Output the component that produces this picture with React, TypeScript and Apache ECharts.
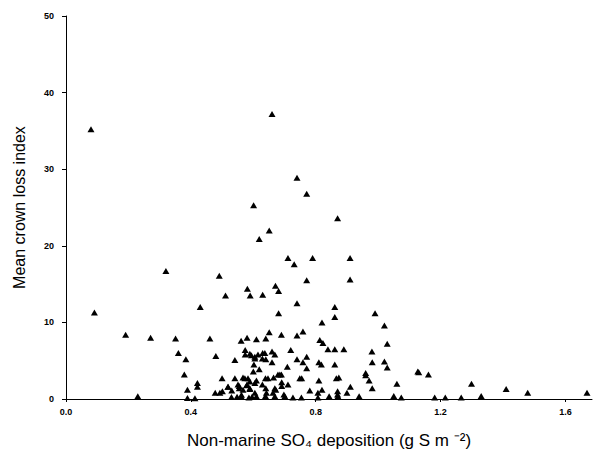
import React, { useEffect, useRef } from "react";
import * as echarts from "echarts";

// Non-marine SO4 deposition (g S m-2)
const depositionX: number[] = [
  0.080, 0.091, 0.191, 0.271, 0.230, 0.320, 0.351, 0.360, 0.384, 0.379,
  0.389, 0.421, 0.421, 0.430, 0.461, 0.480, 0.491, 0.500, 0.511, 0.478,
  0.493, 0.501, 0.519, 0.531, 0.541, 0.555, 0.561, 0.580, 0.581, 0.590,
  0.601, 0.619, 0.610, 0.574, 0.574, 0.589, 0.605, 0.602, 0.600, 0.573,
  0.589, 0.605, 0.579, 0.589, 0.562, 0.605, 0.660, 0.740, 0.771, 0.870,
  0.651, 0.711, 0.731, 0.790, 0.910, 0.771, 0.910, 0.630, 0.671, 0.681,
  0.740, 0.861, 0.861, 0.681, 0.990, 0.820, 1.020, 1.029, 0.759, 0.740,
  0.690, 0.651, 0.640, 0.823, 0.813, 0.839, 0.861, 0.890, 0.980, 0.981,
  1.020, 1.029, 0.960, 0.960, 0.971, 0.981, 1.060, 1.127, 0.720, 0.740,
  0.771, 0.759, 0.771, 0.810, 0.818, 0.861, 0.709, 0.660, 0.660, 0.669,
  0.630, 0.640, 0.619, 0.685, 0.639, 0.647, 0.749, 0.755, 0.866, 0.874,
  0.810, 0.691, 0.691, 0.711, 0.672, 0.629, 0.781, 0.820, 0.870, 0.870,
  0.911, 0.900, 1.130, 1.161, 1.299, 1.410, 1.479, 1.669, 1.330, 1.074,
  1.181, 1.215, 1.266, 0.413, 0.562, 0.610, 0.639, 0.669, 0.701, 0.727,
  0.754, 0.807, 0.843, 0.871, 0.939, 1.050, 0.567, 0.583, 0.610, 0.580,
  0.567, 0.589, 0.541, 0.519, 0.551, 0.555, 0.665, 0.679, 0.690, 0.807,
  0.642, 0.640, 0.669, 0.663, 0.698, 0.594, 0.605, 0.615, 0.637, 0.629,
  0.389, 0.586, 0.596, 0.548, 0.530
];

// Mean crown loss index
const crownLossY: number[] = [
  35.2, 11.3, 8.4, 8.0, 0.35, 16.7, 7.9, 6.0, 5.2, 3.2,
  1.2, 2.1, 1.6, 12.0, 7.9, 5.6, 16.1, 2.7, 13.5, 0.8,
  0.8, 1.0, 1.6, 1.1, 5.1, 1.7, 7.6, 8.0, 14.4, 13.5,
  25.3, 20.9, 7.8, 6.4, 5.8, 5.9, 5.5, 4.5, 3.6, 2.7,
  2.3, 2.1, 1.8, 1.3, 0.56, 0.8, 37.2, 28.9, 26.8, 23.6,
  22.0, 18.4, 17.6, 18.4, 18.4, 15.5, 15.6, 13.6, 14.8, 14.1,
  12.5, 12.0, 10.7, 11.2, 11.2, 10.0, 9.6, 7.2, 8.8, 8.3,
  8.4, 8.7, 7.9, 7.3, 7.7, 6.5, 6.5, 6.5, 6.2, 4.8,
  4.9, 4.1, 3.4, 3.1, 2.4, 1.4, 2.0, 3.6, 6.4, 5.2,
  5.5, 4.8, 4.0, 4.8, 4.5, 4.5, 4.2, 4.8, 6.2, 5.8,
  6.0, 5.2, 3.9, 3.2, 2.7, 2.7, 2.7, 2.7, 2.7, 2.8,
  2.4, 2.2, 1.7, 1.9, 1.2, 1.9, 1.1, 1.2, 1.0, 0.6,
  1.6, 0.8, 3.5, 3.2, 2.0, 1.3, 0.8, 0.8, 0.4, 0.2,
  0.2, 0.2, 0.2, 0.1, 0.3, 0.35, 0.4, 0.35, 0.35, 0.2,
  0.2, 0.2, 0.35, 0.35, 0.35, 0.4, 2.8, 2.7, 2.4, 1.9,
  1.2, 1.4, 2.7, 1.6, 1.9, 1.4, 2.8, 3.2, 3.2, 0.8,
  0.8, 1.4, 1.4, 0.8, 0.6, 5.7, 5.3, 5.8, 6.0, 5.3,
  0.13, 0.2, 0.3, 0.3, 0.25
];

const xTickValues: number[] = [0, 0.4, 0.8, 1.2, 1.6];

const xTitle = "Non-marine SO\u2084 deposition (g S m \u207B\u00B2)";
const yTitle = "Mean crown loss index";

const FONT = "Liberation Sans, Arial, Helvetica, sans-serif";

export default function App() {
  const ref = useRef<HTMLDivElement>(null);

  useEffect(() => {
    document.body.style.margin = "0";
    if (!ref.current) return;
    const chart = echarts.init(ref.current, null, { renderer: "svg" });
    const points = depositionX.map((x, i) => [x, crownLossY[i]]);
    chart.setOption({
      animation: false,
      backgroundColor: "#ffffff",
      grid: { left: 66, right: 14, top: 16, bottom: 53, containLabel: false },
      xAxis: {
        type: "value",
        min: 0,
        max: 1.685,
        name: xTitle,
        nameLocation: "middle",
        nameGap: 33,
        nameTextStyle: { fontFamily: FONT, fontSize: 17, color: "#000" },
        axisLine: { show: true, lineStyle: { color: "#000", width: 1 } },
        axisTick: { show: true, length: 3, customValues: xTickValues, lineStyle: { color: "#000" } },
        axisLabel: {
          customValues: xTickValues,
          formatter: (v: number) => v.toFixed(1),
          fontFamily: FONT,
          fontSize: 9,
          fontWeight: "bold",
          color: "#000",
          margin: 8,
        },
        splitLine: { show: false },
      },
      yAxis: {
        type: "value",
        min: 0,
        max: 50,
        interval: 10,
        name: yTitle,
        nameLocation: "middle",
        nameGap: 39,
        nameTextStyle: { fontFamily: FONT, fontSize: 16, color: "#000" },
        axisLine: { show: true, lineStyle: { color: "#000", width: 1 } },
        axisTick: { show: true, length: 4, lineStyle: { color: "#000" } },
        axisLabel: {
          fontFamily: FONT,
          fontSize: 9,
          fontWeight: "bold",
          color: "#000",
          margin: 12,
        },
        splitLine: { show: false },
      },
      series: [
        {
          type: "scatter",
          data: points,
          symbol: "triangle",
          symbolSize: [7, 6],
          itemStyle: { color: "#000", opacity: 1 },
          clip: false,
        },
      ],
    });
    return () => chart.dispose();
  }, []);

  return <div ref={ref} style={{ width: 606, height: 454 }} />;
}
